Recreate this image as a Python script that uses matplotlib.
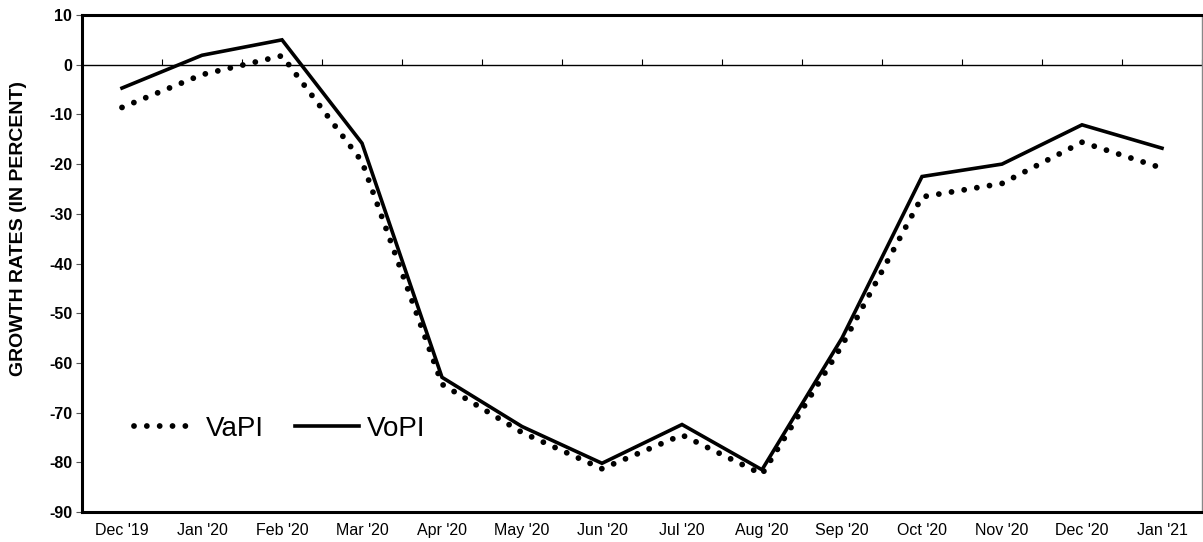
import matplotlib
matplotlib.use("Agg")
import matplotlib.pyplot as plt
from matplotlib.markers import TICKUP

plt.rcParams['font.family'] = ['Liberation Sans', 'DejaVu Sans']

# month labels and growth rates (percent)
months = ["Dec '19", "Jan '20", "Feb '20", "Mar '20", "Apr '20", "May '20", "Jun '20",
          "Jul '20", "Aug '20", "Sep '20", "Oct '20", "Nov '20", "Dec '20", "Jan '21"]
vapi = [-8.6, -2.0, 1.8, -19.5, -64.3, -74.0, -81.3, -74.5, -82.4, -56.5, -26.6, -23.9, -15.6, -20.8]
vopi = [-4.7, 1.9, 5.0, -15.8, -62.9, -72.8, -80.2, -72.4, -81.5, -55.0, -22.5, -20.0, -12.1, -16.8]
y_ticks = list(range(-90, 11, 10))

x = list(range(len(months)))
bounds = [i - 0.5 for i in range(len(months) + 1)]

fig = plt.figure(figsize=(12.03, 5.42), dpi=100)
ax = fig.add_axes([82 / 1203, 30 / 542, 1120 / 1203, 497 / 542])

# dotted VaPI and solid VoPI
ax.plot(x, vapi, color='black', linewidth=4.2, linestyle=(0, (0.001, 2.2)),
        dash_capstyle='round', label='VaPI')
ax.plot(x, vopi, color='black', linewidth=2.6, solid_joinstyle='miter', label='VoPI')

# zero line with little ticks at the category boundaries
ax.axhline(0, color='black', linewidth=1.0, zorder=1)
ax.plot(bounds, [0] * len(bounds), linestyle='none', marker=TICKUP, markersize=4,
        color='black', markeredgewidth=0.8, zorder=1)

ax.set_xlim(bounds[0], bounds[-1])
ax.set_ylim(-90, 10)
ax.set_yticks(y_ticks)
ax.set_yticklabels([str(v) for v in y_ticks], fontweight='bold', fontsize=11.5)
ax.set_xticks(x)
ax.set_xticklabels(months, fontsize=11.5)
ax.tick_params(axis='x', length=0, pad=8)
ax.tick_params(axis='y', length=4, width=0.8, pad=3, color='#555555')

for side in ['left', 'bottom', 'top']:
    ax.spines[side].set_linewidth(2.2)
    ax.spines[side].set_color('black')
ax.spines['right'].set_linewidth(1.0)
ax.spines['right'].set_color('#888888')

ax.set_ylabel('GROWTH RATES (IN PERCENT)', fontsize=14, fontweight='bold')
ax.yaxis.set_label_coords(-0.049, 0.57)

ax.legend(loc='center left', bbox_to_anchor=(0.024, 0.168), ncol=2, frameon=False,
          fontsize=20, handlelength=2.3, handletextpad=0.3, columnspacing=1.1)

fig.savefig('out.png', dpi=100)
